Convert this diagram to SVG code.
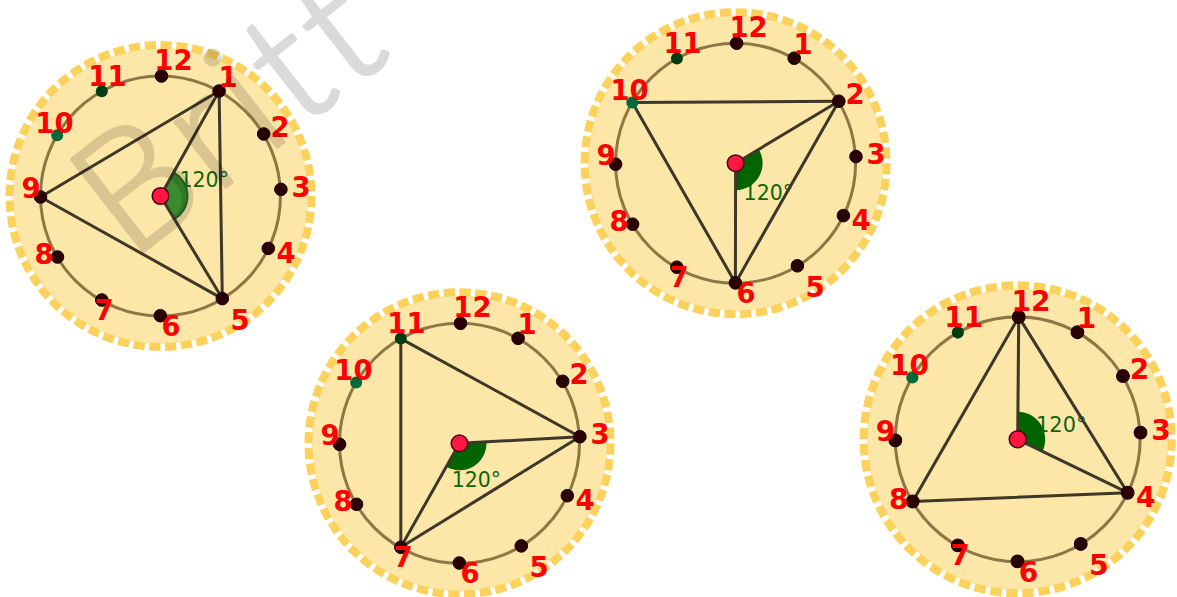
<svg xmlns="http://www.w3.org/2000/svg" xmlns:xlink="http://www.w3.org/1999/xlink" width="1177" height="597" viewBox="0 0 1177 597">
<style>
.disc{fill:#fde7a8}
.ring{fill:none;stroke:#fcd25c;stroke-width:8;stroke-dasharray:7.1 2.9}
.inner{fill:none;stroke:#8f7645;stroke-width:3}
.seg{stroke:#3d3828;stroke-width:3;stroke-linecap:round}
.pt{fill:#2b0004;stroke:#1a0000;stroke-width:1}
.pt11{fill:#003d10}
.pt10{fill:#006a3a}
.ctr{fill:#ff1744;stroke:#4a0010;stroke-width:1.5}
.sec{fill:#006400}
.ang{font-family:"DejaVu Sans","Liberation Sans",sans-serif;font-size:20.5px;fill:#106410}
.lbl{font-family:"DejaVu Sans","Liberation Sans",sans-serif;font-weight:bold;font-size:27.5px;fill:#ff0000;text-anchor:middle}
</style>
<defs>
<g id="face">
<circle class="disc" r="148"/>
<circle class="ring" r="151" pathLength="600"/>
<circle class="inner" r="120"/>
</g>
<g id="dots">
<circle class="pt" cx="1" cy="-120" r="6.3"/>
<circle class="pt" cx="58.6" cy="-105" r="6.3"/>
<circle class="pt" cx="103.2" cy="-62" r="6.3"/>
<circle class="pt" cx="120.4" cy="-6.6" r="6.3"/>
<circle class="pt" cx="107.8" cy="52.4" r="6.3"/>
<circle class="pt" cx="61.8" cy="102.6" r="6.3"/>
<circle class="pt" cx="-0.2" cy="119.7" r="6.3"/>
<circle class="pt" cx="-58.7" cy="104" r="6.3"/>
<circle class="pt" cx="-103" cy="61" r="6.3"/>
<circle class="pt" cx="-120" cy="1" r="6.3"/>
<circle class="pt10" cx="-103.3" cy="-60.7" r="6"/>
<circle class="pt11" cx="-58.7" cy="-104.7" r="6"/>
</g>
</defs>

<g id="clock-1" transform="translate(160.5,196)">
<use xlink:href="#face" href="#face"/>
<text class="ang" x="19" y="-9">120°</text>
<path d="M0,0 L13.16,-23.58 A27,27 0 0 1 13.93,23.12 Z" fill="#3c8a2e" stroke="#1f6e1f" stroke-width="2"/>
<g class="connectors">
<line class="seg" x1="58.6" y1="-105" x2="61.8" y2="102.6"/>
<line class="seg" x1="61.8" y1="102.6" x2="-120" y2="1"/>
<line class="seg" x1="-120" y1="1" x2="58.6" y2="-105"/>
<line class="seg" x1="0" y1="0" x2="58.6" y2="-105"/>
<line class="seg" x1="0" y1="0" x2="61.8" y2="102.6"/>
</g>
<use xlink:href="#dots" href="#dots"/>
<circle class="ctr" r="8.3"/>
<text class="lbl" x="13" y="-126">12</text>
<text class="lbl" x="67.5" y="-109.5">1</text>
<text class="lbl" x="119.5" y="-59">2</text>
<text class="lbl" x="140.5" y="0.5">3</text>
<text class="lbl" x="125.5" y="66.5">4</text>
<text class="lbl" x="79.5" y="133.5">5</text>
<text class="lbl" x="10.5" y="139.5">6</text>
<text class="lbl" x="-56.5" y="123.5">7</text>
<text class="lbl" x="-116.5" y="68">8</text>
<text class="lbl" x="-129.5" y="2">9</text>
<text class="lbl" x="-106" y="-63">10</text>
<text class="lbl" x="-53" y="-110.5">11</text>
</g>

<g id="clock-2" transform="translate(735.6,163.2)">
<use xlink:href="#face" href="#face"/>
<text class="ang" x="8" y="36.5">120°</text>
<path class="sec" d="M0,0 L23.14,-13.9 A27,27 0 0 1 -0.05,27 Z"/>
<g class="connectors">
<line class="seg" x1="103.2" y1="-62" x2="-0.2" y2="119.7"/>
<line class="seg" x1="-0.2" y1="119.7" x2="-103.3" y2="-60.7"/>
<line class="seg" x1="-103.3" y1="-60.7" x2="103.2" y2="-62"/>
<line class="seg" x1="0" y1="0" x2="103.2" y2="-62"/>
<line class="seg" x1="0" y1="0" x2="-0.2" y2="119.7"/>
</g>
<use xlink:href="#dots" href="#dots"/>
<circle class="ctr" r="8.3"/>
<text class="lbl" x="13" y="-126">12</text>
<text class="lbl" x="67.5" y="-109.5">1</text>
<text class="lbl" x="119.5" y="-59">2</text>
<text class="lbl" x="140.5" y="0.5">3</text>
<text class="lbl" x="125.5" y="66.5">4</text>
<text class="lbl" x="79.5" y="133.5">5</text>
<text class="lbl" x="10.5" y="139.5">6</text>
<text class="lbl" x="-56.5" y="123.5">7</text>
<text class="lbl" x="-116.5" y="68">8</text>
<text class="lbl" x="-129.5" y="2">9</text>
<text class="lbl" x="-106" y="-63">10</text>
<text class="lbl" x="-53" y="-110.5">11</text>
</g>

<g id="clock-3" transform="translate(459.5,443.3)">
<use xlink:href="#face" href="#face"/>
<text class="ang" x="-7.8" y="43.4">120°</text>
<path class="sec" d="M0,0 L26.96,-1.48 A27,27 0 0 1 -13.27,23.52 Z"/>
<g class="connectors">
<line class="seg" x1="120.4" y1="-6.6" x2="-58.7" y2="104"/>
<line class="seg" x1="-58.7" y1="104" x2="-58.7" y2="-104.7"/>
<line class="seg" x1="-58.7" y1="-104.7" x2="120.4" y2="-6.6"/>
<line class="seg" x1="0" y1="0" x2="120.4" y2="-6.6"/>
<line class="seg" x1="0" y1="0" x2="-58.7" y2="104"/>
</g>
<use xlink:href="#dots" href="#dots"/>
<circle class="ctr" r="8.3"/>
<text class="lbl" x="13" y="-126">12</text>
<text class="lbl" x="67.5" y="-109.5">1</text>
<text class="lbl" x="119.5" y="-59">2</text>
<text class="lbl" x="140.5" y="0.5">3</text>
<text class="lbl" x="125.5" y="66.5">4</text>
<text class="lbl" x="79.5" y="133.5">5</text>
<text class="lbl" x="10.5" y="139.5">6</text>
<text class="lbl" x="-56.5" y="123.5">7</text>
<text class="lbl" x="-116.5" y="68">8</text>
<text class="lbl" x="-129.5" y="2">9</text>
<text class="lbl" x="-106" y="-63">10</text>
<text class="lbl" x="-53" y="-110.5">11</text>
</g>

<g id="clock-4" transform="translate(1017.7,439.3) scale(1.02)">
<use xlink:href="#face" href="#face"/>
<text class="ang" x="18" y="-6.9">120°</text>
<path class="sec" d="M0,0 L0.22,-27 A27,27 0 0 1 24.28,11.8 Z"/>
<g class="connectors">
<line class="seg" x1="1" y1="-120" x2="107.8" y2="52.4"/>
<line class="seg" x1="107.8" y1="52.4" x2="-103" y2="61"/>
<line class="seg" x1="-103" y1="61" x2="1" y2="-120"/>
<line class="seg" x1="0" y1="0" x2="1" y2="-120"/>
<line class="seg" x1="0" y1="0" x2="107.8" y2="52.4"/>
</g>
<use xlink:href="#dots" href="#dots"/>
<circle class="ctr" r="8.3"/>
<text class="lbl" x="13" y="-126">12</text>
<text class="lbl" x="67.5" y="-109.5">1</text>
<text class="lbl" x="119.5" y="-59">2</text>
<text class="lbl" x="140.5" y="0.5">3</text>
<text class="lbl" x="125.5" y="66.5">4</text>
<text class="lbl" x="79.5" y="133.5">5</text>
<text class="lbl" x="10.5" y="139.5">6</text>
<text class="lbl" x="-56.5" y="123.5">7</text>
<text class="lbl" x="-116.5" y="68">8</text>
<text class="lbl" x="-129.5" y="2">9</text>
<text class="lbl" x="-106" y="-63">10</text>
<text class="lbl" x="-53" y="-110.5">11</text>
</g>

<text id="watermark" transform="translate(130,262) rotate(-38)" font-family="Lato, 'DejaVu Sans', sans-serif" font-weight="300" font-size="165" letter-spacing="6" fill="#000" stroke="#000" stroke-width="3.5" stroke-linejoin="round" opacity="0.14">Britt</text>
</svg>
